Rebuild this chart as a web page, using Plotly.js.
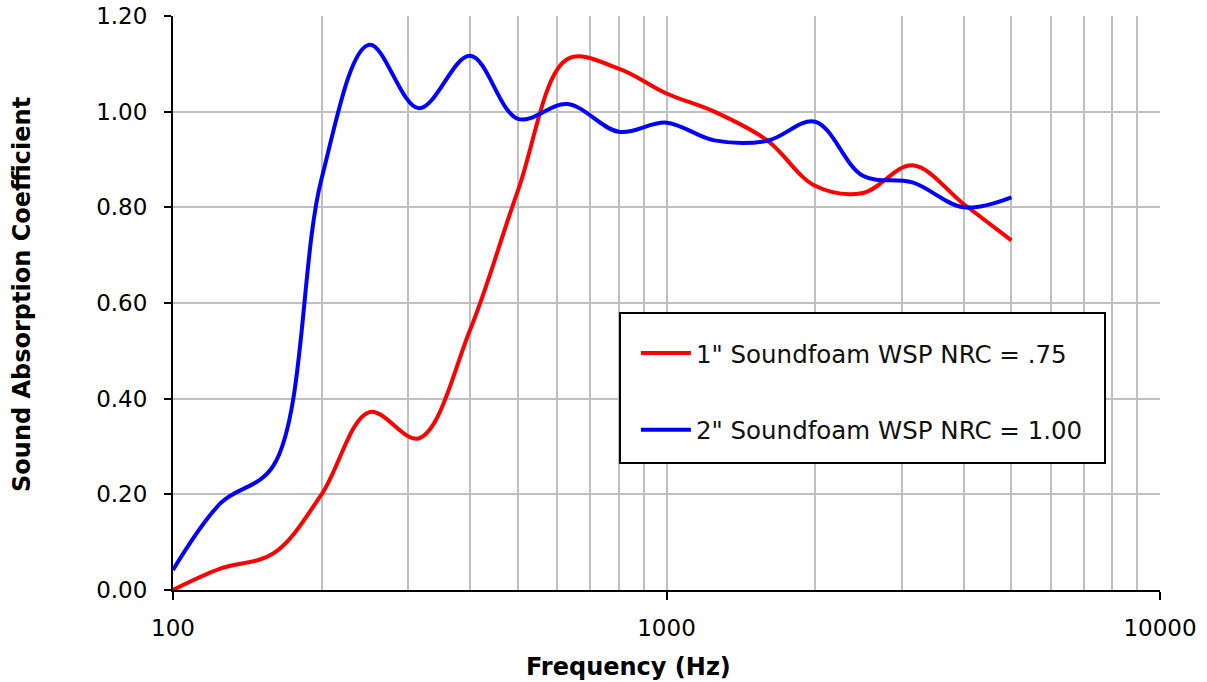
<!DOCTYPE html>
<html>
<head>
<meta charset="utf-8">
<script src="https://cdn.plot.ly/plotly-3.0.1.min.js"></script>
<style>html,body{margin:0;padding:0;background:#fff;}#chart{width:1207px;height:682px;}</style>
</head>
<body>
<div id="chart"></div>
<script>
const frequencies = [100,125,160,200,250,315,400,500,630,800,1000,1250,1600,2000,2500,3150,4000,5000];
const foam1in = [0.00,0.045,0.077,0.20,0.372,0.317,0.544,0.835,1.11,1.09,1.038,1.00,0.94,0.845,0.83,0.888,0.807,0.731];
const foam2in = [0.042,0.182,0.261,0.86,1.14,1.007,1.117,0.985,1.016,0.958,0.977,0.94,0.939,0.979,0.866,0.852,0.80,0.821];
const seriesNames = ['1" Soundfoam WSP NRC = .75', '2" Soundfoam WSP NRC = 1.00'];
const xMajorTicks = [100,1000,10000];
const xMinorTicks = [200,300,400,500,600,700,800,900,2000,3000,4000,5000,6000,7000,8000,9000];
const yTicks = [0,0.2,0.4,0.6,0.8,1.0,1.2];
const xTitle = 'Frequency (Hz)';
const yTitle = 'Sound Absorption Coefficient';

const FONT = 'DejaVu Sans, Verdana, sans-serif';
const traces = [
  {x: frequencies, y: foam1in, name: seriesNames[0], mode: 'lines', legendgroup: 'a',
   line: {color: '#ff0000', width: 4, shape: 'spline', smoothing: 1}},
  {x: frequencies, y: foam2in, name: seriesNames[1], mode: 'lines', legendgroup: 'b',
   line: {color: '#0000ff', width: 4, shape: 'spline', smoothing: 1}}
];
const layout = {
  width: 1207, height: 682,
  margin: {l: 173, r: 47, t: 16, b: 92},
  paper_bgcolor: '#fff', plot_bgcolor: '#fff',
  font: {family: FONT, color: '#000', size: 22},
  showlegend: true,
  legend: {x: 0.469, xanchor: 'left', y: 0.452, yanchor: 'top',
    bgcolor: 'rgba(0,0,0,0)', borderwidth: 0, itemwidth: 50,
    font: {family: FONT, size: 24.5, color: '#111'}, tracegroupgap: 42, traceorder: 'grouped'},
  shapes: [{type: 'rect', xref: 'paper', yref: 'paper', x0: 0.4529, x1: 0.9443, y0: 0.2213, y1: 0.4826,
    fillcolor: '#fff', line: {color: '#000', width: 2}, layer: 'above'}],
  annotations: [
    {text: '<b>' + xTitle + '</b>', xref: 'paper', yref: 'paper', x: 0.462, y: -0.134,
     xanchor: 'center', yanchor: 'middle', showarrow: false, font: {size: 24, color: '#000'}},
    {text: '<b>' + yTitle + '</b>', xref: 'paper', yref: 'paper', x: -0.153, y: 0.5157, textangle: -90,
     xanchor: 'center', yanchor: 'middle', showarrow: false, font: {size: 24, color: '#000'}}
  ],
  xaxis: {type: 'log', range: [2, 4], tickvals: xMajorTicks, ticktext: xMajorTicks.map(String),
    showline: true, linecolor: '#000', linewidth: 2, ticks: 'outside', ticklen: 8, tickwidth: 2, tickcolor: '#000',
    showgrid: true, gridcolor: '#c0c0c0', gridwidth: 2, zeroline: false,
    minor: {tickvals: xMinorTicks, showgrid: true, gridcolor: '#c0c0c0', gridwidth: 2, ticks: ''},
    tickfont: {size: 23}, ticklabelstandoff: 8},
  yaxis: {range: [0, 1.2], tickvals: yTicks, tickformat: '.2f',
    showline: true, linecolor: '#000', linewidth: 2, ticks: 'outside', ticklen: 7, tickwidth: 2, tickcolor: '#000',
    showgrid: true, gridcolor: '#c0c0c0', gridwidth: 2, zeroline: false,
    tickfont: {size: 23}, ticklabelstandoff: 12}
};
Plotly.newPlot('chart', traces, layout, {displayModeBar: false, staticPlot: true});
</script>
</body>
</html>
